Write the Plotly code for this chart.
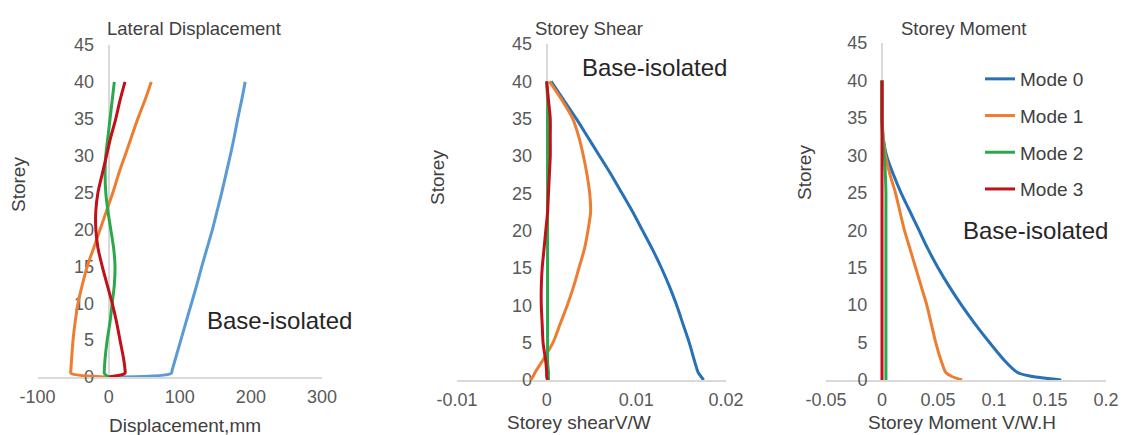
import plotly.graph_objects as go

W, H = 1122, 435

# ---------------- data ----------------
storey = [0, 0.5, 1, 2.5, 5, 7.5, 10, 12.5, 15, 17.5, 20, 22.5, 25, 27.5, 30, 32.5, 35, 37.5, 40]
modes = ["Mode 0", "Mode 1", "Mode 2", "Mode 3"]

# Lateral displacement (mm)
disp_mode0 = [0, 88, 89.5, 94, 101.5, 109, 116.5, 124, 131, 138.5, 146, 152.5, 159, 165, 171, 176.5, 181.5, 187, 192]
disp_mode1 = [0, -53, -53, -52, -50, -47, -43, -37, -30, -21, -12, -3, 6, 14, 23, 32, 41, 51, 60]
disp_mode2 = [0, -6, -6, -5, -2, 2, 5, 8, 9, 7, 3, -1, -4, -5, -4, -1, 2, 5, 8]
disp_mode3 = [0, 23, 23, 21, 16, 11, 5, -2, -9, -15, -18, -18, -15, -9, -3, 3, 10, 16, 23]

# Storey shear V/W
shear_mode0 = [0.0175, 0.0172, 0.0169, 0.0165, 0.0159, 0.0152, 0.0145, 0.0137, 0.0128, 0.0118,
               0.0107, 0.0096, 0.0084, 0.0072, 0.0059, 0.0046, 0.0033, 0.0019, 0.0005]
shear_mode1 = [-0.0018, -0.0015, -0.0013, -0.0005, 0.0007, 0.0015, 0.0023, 0.0030, 0.0036, 0.0042,
               0.0046, 0.0049, 0.0048, 0.0045, 0.0041, 0.0036, 0.0029, 0.0017, 0.0003]
shear_mode2 = [0.0002, 0.0002, 0.0002, 0.0001, 0.0001, 0.0001, 0.0001, 0.0001, 0.0001, 0.0001,
               0.0001, 0.0001, 0.0001, 0.0001, 0.0001, 0.0001, 0.0001, 0.0001, 0.0000]
shear_mode3 = [0.0001, 0.0000, 0.0000, -0.0001, -0.0004, -0.0005, -0.0006, -0.0006, -0.0005, -0.0003,
               -0.0001, 0.0001, 0.0002, 0.0003, 0.0004, 0.0004, 0.0004, 0.0002, 0.0000]

# Storey moment V/W.H
moment_mode0 = [0.160, 0.133, 0.121, 0.110, 0.096, 0.083, 0.071, 0.060, 0.050, 0.041,
                0.033, 0.025, 0.017, 0.010, 0.004, 0.001, 0.0, 0.0, 0.0]
moment_mode1 = [0.0715, 0.062, 0.057, 0.053, 0.048, 0.044, 0.040, 0.035, 0.030, 0.025,
                0.020, 0.016, 0.012, 0.007, 0.003, 0.001, 0.0, 0.0, 0.0]
moment_mode2 = [0.0035, 0.0035, 0.0035, 0.0035, 0.0035, 0.0035, 0.0035, 0.0035, 0.0035, 0.0035,
                0.0035, 0.0035, 0.0035, 0.003, 0.002, 0.0005, 0.0, 0.0, 0.0]
moment_mode3 = [0.0] * 19

y_ticks = [0, 5, 10, 15, 20, 25, 30, 35, 40, 45]
x1_ticks = [-100, 0, 100, 200, 300]
x2_ticks = [-0.01, 0, 0.01, 0.02]
x2_labels = ["-0.01", "0", "0.01", "0.02"]
x3_ticks = [-0.05, 0, 0.05, 0.1, 0.15, 0.2]
x3_labels = ["-0.05", "0", "0.05", "0.1", "0.15", "0.2"]

titles = ["Lateral Displacement", "Storey Shear", "Storey Moment"]
x_titles = ["Displacement,mm", "Storey shearV/W", "Storey Moment V/W.H"]

# ---------------- style ----------------
FONT = "Liberation Sans, Arial, sans-serif"
TICK_COLOR = "#595959"
TEXT_COLOR = "#404040"
AXIS_LINE = "#d9d9d9"
colors_p1 = ["#5B9BD5", "#ED7D31", "#2CA84C", "#C0101A"]
colors = ["#2771B7", "#ED7D31", "#2CA84C", "#C0101A"]

# panel geometry in pixels: (x_left, x_right, y_bottom, y_top, x range)
panels = [
    (37.5, 322, 377, 45, [-100, 300]),
    (457, 726, 380, 44, [-0.01, 0.02]),
    (826, 1106, 380, 43, [-0.05, 0.2]),
]

fig = go.Figure()

series = [
    [disp_mode0, disp_mode1, disp_mode2, disp_mode3],
    [shear_mode0, shear_mode1, shear_mode2, shear_mode3],
    [moment_mode0, moment_mode1, moment_mode2, moment_mode3],
]

for p, vals in enumerate(series):
    xa = "x" if p == 0 else f"x{p+1}"
    ya = "y" if p == 0 else f"y{p+1}"
    pal = colors_p1 if p == 0 else colors
    for m, v in enumerate(vals):
        fig.add_trace(go.Scatter(
            x=v, y=storey, mode="lines", name=modes[m],
            line=dict(color=pal[m], width=3, shape="spline", smoothing=0.8),
            xaxis=xa, yaxis=ya, cliponaxis=False,
            showlegend=(p == 2), legendgroup=modes[m],
            hoverinfo="skip",
        ))

tick_font = dict(family=FONT, size=18, color=TICK_COLOR)
ticktexts = [[str(t) for t in x1_ticks], x2_labels, x3_labels]
tickvals = [x1_ticks, x2_ticks, x3_ticks]

layout = dict()
for p, (xl, xr, yb, yt, rng) in enumerate(panels):
    xd = [xl / W, xr / W]
    yd = [1 - yb / H, 1 - yt / H]
    sx = "" if p == 0 else str(p + 1)
    pos = xd[0] + (0 - rng[0]) / (rng[1] - rng[0]) * (xd[1] - xd[0])
    layout[f"xaxis{sx}"] = dict(
        domain=xd, range=rng, anchor=f"y{sx}", showline=True, linecolor=AXIS_LINE,
        linewidth=2, showgrid=False, zeroline=False, ticks="outside", ticklen=2,
        tickcolor="rgba(0,0,0,0)", tickvals=tickvals[p], ticktext=ticktexts[p],
        tickfont=tick_font, fixedrange=True, automargin=False,
        ticklabeloverflow="allow", layer="below traces",
    )
    layout[f"yaxis{sx}"] = dict(
        domain=yd, range=[0, 45], anchor="free", position=pos, showline=True,
        linecolor=AXIS_LINE, linewidth=2, showgrid=False, zeroline=False,
        ticks="outside", ticklen=10, tickcolor="rgba(0,0,0,0)", tickvals=y_ticks,
        tickfont=tick_font, fixedrange=True, automargin=False,
        ticklabeloverflow="allow", layer="below traces",
    )

fig.update_layout(**layout)

ann = []
def A(text, px, py, size, color=TEXT_COLOR, angle=0):
    ann.append(dict(text=text, x=px / W, y=1 - py / H, xref="paper", yref="paper",
                    showarrow=False, xanchor="center", yanchor="middle",
                    textangle=angle, font=dict(family=FONT, size=size, color=color)))

for t, (px, py) in zip(titles, [(194, 28), (589, 28), (963, 28)]):
    A(t, px, py, 18.5)
for t, (px, py) in zip(x_titles, [(185, 425), (579, 422), (962, 422)]):
    A(t, px, py, 19)
for px, py in [(18, 185), (437, 178), (804, 173)]:
    A("Storey", px, py, 19, angle=-90)
for px, py in [(279, 320), (654, 68), (1035, 230)]:
    A("Base-isolated", px, py, 24, color="#262626")

fig.update_layout(
    annotations=ann,
    width=W, height=H,
    margin=dict(l=0, r=0, t=0, b=0, autoexpand=False),
    paper_bgcolor="white", plot_bgcolor="white",
    showlegend=True,
    legend=dict(x=980 / W, y=1 - 60 / H, xanchor="left", yanchor="top",
                font=dict(family=FONT, size=19, color=TEXT_COLOR),
                bgcolor="rgba(0,0,0,0)", tracegroupgap=9, itemwidth=30),
)

fig.write_html("out.html")
